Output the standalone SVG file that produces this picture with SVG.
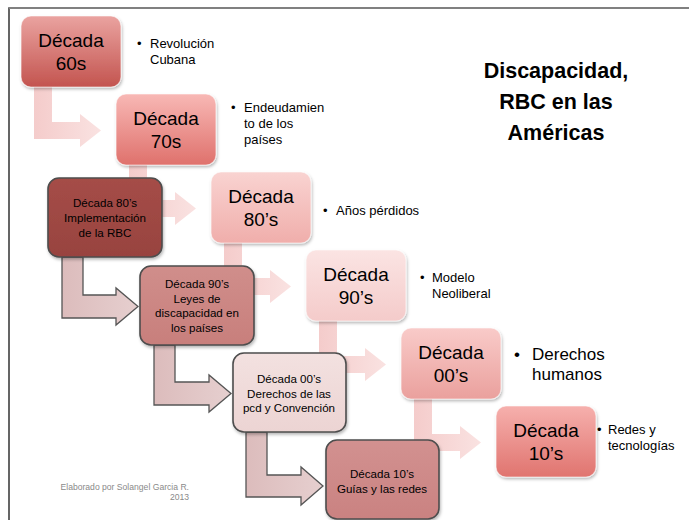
<svg xmlns="http://www.w3.org/2000/svg" width="689" height="520" viewBox="0 0 689 520">
<style>
text{font-family:"Liberation Sans",Arial,sans-serif;fill:#000}
.big{font-size:19px;text-anchor:middle}
.sm{font-size:11.6px;text-anchor:middle}
.bul{font-size:13px}
.title{font-size:21.5px;font-weight:bold;text-anchor:middle}
.foot{font-size:8.6px;fill:#8a8a8a;text-anchor:end}
.rbox{stroke:#fff;stroke-opacity:.55;stroke-width:1.2;filter:url(#sh)}
.lbox{stroke:#4d4d4d;stroke-width:1.6;filter:url(#sh)}
.up{fill:url(#gUp);opacity:.9}
.lo{fill:url(#gLo);stroke:#555;stroke-width:1.3}
</style>
<defs>
<filter id="sh" x="-10%" y="-10%" width="125%" height="130%"><feDropShadow dx="1" dy="2" stdDeviation="1.5" flood-color="#000" flood-opacity=".28"/></filter>
<linearGradient id="g1" x1="0" y1="0" x2="0" y2="1"><stop offset="0" stop-color="#eaa3a0"/><stop offset="1" stop-color="#c3544f"/></linearGradient>
<linearGradient id="g2" x1="0" y1="0" x2="0" y2="1"><stop offset="0" stop-color="#f8b8b5"/><stop offset="1" stop-color="#df716c"/></linearGradient>
<linearGradient id="g3" x1="0" y1="0" x2="0" y2="1"><stop offset="0" stop-color="#f9d3d1"/><stop offset="1" stop-color="#f0aeab"/></linearGradient>
<linearGradient id="g4" x1="0" y1="0" x2="0" y2="1"><stop offset="0" stop-color="#fbe4e3"/><stop offset="1" stop-color="#f4cbca"/></linearGradient>
<linearGradient id="g5" x1="0" y1="0" x2="0" y2="1"><stop offset="0" stop-color="#f9cbc9"/><stop offset="1" stop-color="#eaa09d"/></linearGradient>
<linearGradient id="g6" x1="0" y1="0" x2="0" y2="1"><stop offset="0" stop-color="#f6b0ad"/><stop offset="1" stop-color="#e0746f"/></linearGradient>
<linearGradient id="gA" x1="0" y1="0" x2="0" y2="1"><stop offset="0" stop-color="#a54d47"/><stop offset="1" stop-color="#984340"/></linearGradient>
<linearGradient id="gB" x1="0" y1="0" x2="0" y2="1"><stop offset="0" stop-color="#d08e8b"/><stop offset="1" stop-color="#c87f7c"/></linearGradient>
<linearGradient id="gC" x1="0" y1="0" x2="0" y2="1"><stop offset="0" stop-color="#f3e1e0"/><stop offset="1" stop-color="#ecd4d3"/></linearGradient>
<linearGradient id="gD" x1="0" y1="0" x2="0" y2="1"><stop offset="0" stop-color="#d29190"/><stop offset="1" stop-color="#ca8281"/></linearGradient>
<linearGradient id="gUp" x1="0" y1="0" x2="1" y2="0"><stop offset="0" stop-color="#f3c6c5"/><stop offset="1" stop-color="#f9dfde"/></linearGradient>
<linearGradient id="gLo" x1="0" y1="0" x2="1" y2="0"><stop offset="0" stop-color="#dcbcbc"/><stop offset="1" stop-color="#e6cfcf"/></linearGradient>
</defs>
<rect width="689" height="520" fill="#fff"/>
<path d="M9 520V8H689" fill="none" stroke="#333" stroke-width="1.5"/>
<path d="M9 8H689" fill="none" stroke="#808080" stroke-width="2"/>

<g id="connectors">
<path class="up" d="M34 86H52V122H80V114L101 130.5L80 147V139H34Z"/>
<path class="up" transform="translate(95,78)" d="M34 86H52V122H80V114L101 130.5L80 147V139H34Z"/>
<path class="up" transform="translate(190,156)" d="M34 86H52V122H80V114L101 130.5L80 147V139H34Z"/>
<path class="up" transform="translate(285,234)" d="M34 86H52V122H80V114L101 130.5L80 147V139H34Z"/>
<path class="up" transform="translate(380,312)" d="M34 86H52V122H80V114L101 130.5L80 147V139H34Z"/>
<path class="lo" d="M62 257H83V295H116V288L138 306.5L116 325V318H62Z"/>
<path class="lo" d="M154 345H175V382H209V375L231 393.5L209 412V405H154Z"/>
<path class="lo" d="M246 432H267V475H301V467L323 486L301 505V497H246Z"/>
</g>

<g id="n60">
<rect class="rbox" x="21" y="16" width="100" height="71" rx="10" fill="url(#g1)"/>
<text class="big" x="71" y="47">Década</text><text class="big" x="71" y="70">60s</text>
<text class="bul" x="137" y="48">•</text><text class="bul" x="150" y="48">Revolución</text><text class="bul" x="150" y="64">Cubana</text>
</g>
<g id="n70">
<rect class="rbox" x="116" y="94" width="100" height="71" rx="10" fill="url(#g2)"/>
<text class="big" x="166" y="125">Década</text><text class="big" x="166" y="148">70s</text>
<text class="bul" x="231" y="112">•</text><text class="bul" x="244" y="112">Endeudamien</text><text class="bul" x="244" y="128">to de los</text><text class="bul" x="244" y="144">países</text>
</g>
<g id="n80">
<rect class="rbox" x="211" y="172" width="100" height="71" rx="10" fill="url(#g3)"/>
<text class="big" x="261" y="203">Década</text><text class="big" x="261" y="226">80’s</text>
<text class="bul" x="323" y="215">•</text><text class="bul" x="336" y="215">Años pérdidos</text>
</g>
<g id="n90">
<rect class="rbox" x="306" y="250" width="100" height="71" rx="10" fill="url(#g4)"/>
<text class="big" x="356" y="281">Década</text><text class="big" x="356" y="304">90’s</text>
<text class="bul" x="420" y="282">•</text><text class="bul" x="432" y="282">Modelo</text><text class="bul" x="432" y="298">Neoliberal</text>
</g>
<g id="n00">
<rect class="rbox" x="401" y="328" width="100" height="71" rx="10" fill="url(#g5)"/>
<text class="big" x="451" y="359">Década</text><text class="big" x="451" y="382">00’s</text>
<text x="514" y="360" style="font-size:17px">•</text><text x="532" y="360" style="font-size:17px">Derechos</text><text x="532" y="380" style="font-size:17px">humanos</text>
</g>
<g id="n10">
<rect class="rbox" x="496" y="406" width="100" height="71" rx="10" fill="url(#g6)"/>
<text class="big" x="546" y="437">Década</text><text class="big" x="546" y="460">10’s</text>
<text class="bul" x="597" y="434">•</text><text class="bul" x="608" y="434">Redes y</text><text class="bul" x="608" y="450">tecnologías</text>
</g>

<g id="nA">
<rect class="lbox" x="48" y="178" width="114" height="79" rx="11" fill="url(#gA)"/>
<text class="sm" x="105" y="207">Década 80’s</text><text class="sm" x="105" y="222">Implementación</text><text class="sm" x="105" y="237">de la RBC</text>
</g>
<g id="nB">
<rect class="lbox" x="140" y="266" width="114" height="79" rx="11" fill="url(#gB)"/>
<text class="sm" x="197" y="288">Década 90’s</text><text class="sm" x="197" y="302.5">Leyes de</text><text class="sm" x="197" y="317">discapacidad en</text><text class="sm" x="197" y="331.5">los países</text>
</g>
<g id="nC">
<rect class="lbox" x="233" y="353" width="113" height="79" rx="11" fill="url(#gC)"/>
<text class="sm" x="289" y="383">Década 00’s</text><text class="sm" x="289" y="397.5">Derechos de las</text><text class="sm" x="289" y="412">pcd y Convención</text>
</g>
<g id="nD">
<rect class="lbox" x="326" y="440" width="113" height="79" rx="11" fill="url(#gD)"/>
<text class="sm" x="382" y="478">Década 10’s</text><text class="sm" x="382" y="492.5">Guías y las redes</text>
</g>

<g id="title">
<text class="title" x="556" y="78">Discapacidad,</text>
<text class="title" x="556" y="109">RBC en las</text>
<text class="title" x="556" y="140">Américas</text>
</g>
<text class="foot" x="189" y="490">Elaborado por Solangel Garcia R.</text>
<text class="foot" x="189" y="500">2013</text>
</svg>
